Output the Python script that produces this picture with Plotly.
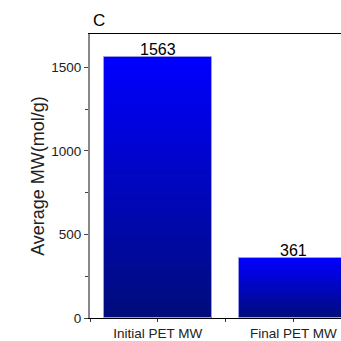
import plotly.graph_objects as go

categories = ["Initial PET MW", "Final PET MW"]
values = [1563, 361]
y_ticks = [0, 500, 1000, 1500]

N_SEG = 60
top_rgb = (0, 0, 255)
bot_rgb = (0, 12, 122)

x_pos = list(range(len(categories)))

fig = go.Figure()
for i in range(N_SEG):
    f = (i + 0.5) / N_SEG
    c = tuple(round(b + (t - b) * f) for b, t in zip(bot_rgb, top_rgb))
    fig.add_trace(go.Bar(
        x=x_pos, y=[v / N_SEG * 1.02 for v in values],
        base=[v * i / N_SEG for v in values], width=0.8,
        marker=dict(color=f"rgb{c}", line=dict(width=0)),
        showlegend=False, hoverinfo="skip"))

# thin light outline around each bar
fig.add_trace(go.Bar(
    x=x_pos, y=values, width=0.8,
    marker=dict(color="rgba(0,0,0,0)", line=dict(width=1, color="#9a9ae6")),
    showlegend=False, hoverinfo="skip"))

annotations = [dict(text="C", x=0.0, xref="paper", y=1.0, yref="paper",
                    xanchor="left", yanchor="bottom", xshift=1, yshift=2,
                    showarrow=False, font=dict(size=17, color="black"))]
for xp, v in zip(x_pos, values):
    annotations.append(dict(text=str(v), x=xp, y=v, xref="x", yref="y",
                            xanchor="center", yanchor="bottom", yshift=-3,
                            showarrow=False, font=dict(size=16, color="black")))

fig.update_layout(
    width=341, height=341, barmode="overlay", bargap=0,
    margin=dict(l=90, r=0, t=34, b=21),
    plot_bgcolor="white", paper_bgcolor="white",
    font=dict(family="Liberation Sans, Arial, sans-serif", color="#222"),
    annotations=annotations,
)
fig.update_xaxes(
    range=[-0.5, 1.351], tickvals=x_pos, ticktext=categories,
    showline=True, linecolor="black", linewidth=1.3, mirror=True,
    ticks="outside", ticklen=3, tickcolor="#333", tickfont=dict(size=13.5),
    minor=dict(tick0=0.5, dtick=1, ticks="outside", ticklen=3, tickcolor="#333"),
    showgrid=False, zeroline=False)
fig.update_yaxes(
    range=[0, 1700], tickvals=y_ticks,
    showline=True, linecolor="#888", linewidth=2,
    ticks="outside", ticklen=4, tickcolor="#444", tickfont=dict(size=13.5),
    minor=dict(dtick=250, ticks="outside", ticklen=3, tickcolor="#444"),
    title=dict(text="Average MW(mol/g)", font=dict(size=18), standoff=2),
    showgrid=False, zeroline=False)

fig.write_html("out.html", config={"displayModeBar": False},
               post_script="document.body.style.margin='0';document.body.style.overflow='hidden';")
